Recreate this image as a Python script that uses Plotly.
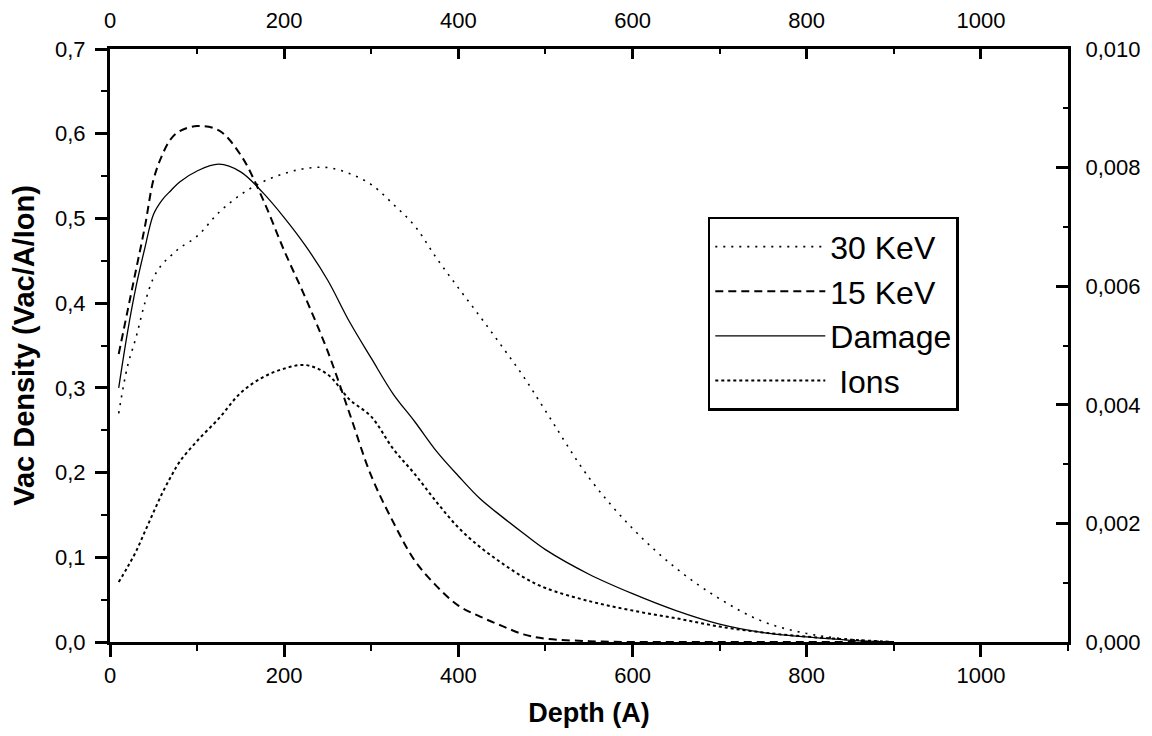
import plotly.graph_objects as go

depth = [10, 20, 30, 40, 50, 60, 70, 80, 100, 125, 150, 175, 200, 225, 250, 275, 300,
         325, 350, 375, 400, 425, 450, 475, 500, 550, 600, 650, 700, 750, 800, 850, 900]

kev30 = [0.27, 0.325, 0.36, 0.40, 0.43, 0.446, 0.456, 0.465, 0.479, 0.507, 0.528, 0.543,
         0.553, 0.559, 0.560, 0.553, 0.540, 0.517, 0.491, 0.453, 0.418, 0.384, 0.349,
         0.313, 0.273, 0.194, 0.134, 0.087, 0.051, 0.024, 0.010, 0.003, 0.0]

kev15 = [0.34, 0.39, 0.44, 0.49, 0.546, 0.575, 0.594, 0.603, 0.609, 0.604, 0.575, 0.524,
         0.462, 0.405, 0.343, 0.27, 0.196, 0.142, 0.096, 0.066, 0.043, 0.030, 0.019,
         0.009, 0.004, 0.001, 0.0, 0.0, 0.0, 0.0, 0.0, 0.0, 0.0]

damage = [0.30, 0.365, 0.42, 0.465, 0.505, 0.522, 0.533, 0.543, 0.556, 0.564, 0.555,
          0.531, 0.501, 0.467, 0.427, 0.378, 0.335, 0.293, 0.260, 0.225, 0.196, 0.169,
          0.148, 0.128, 0.109, 0.080, 0.057, 0.037, 0.021, 0.011, 0.006, 0.002, 0.0]

# Ions, right axis units
ions = [0.00101, 0.00126, 0.00153, 0.00186, 0.00219, 0.00251, 0.00279, 0.00304, 0.00339,
        0.00377, 0.00420, 0.00446, 0.00461, 0.00467, 0.00451, 0.00409, 0.00380, 0.00326,
        0.00283, 0.00236, 0.00193, 0.00160, 0.00133, 0.00109, 0.00091, 0.00069, 0.00053,
        0.00040, 0.00026, 0.00016, 0.00009, 0.00004, 0.0]

x_ticks = [0, 200, 400, 600, 800, 1000]
y_left_ticks = [0.0, 0.1, 0.2, 0.3, 0.4, 0.5, 0.6, 0.7]
y_right_ticks = [0.000, 0.002, 0.004, 0.006, 0.008, 0.010]

FONT = "Arial, Liberation Sans, sans-serif"

fig = go.Figure()
fig.add_trace(go.Scatter(x=depth, y=kev30, name="30 KeV", mode="lines",
                         line=dict(color="black", width=1.6, dash="2px,6px", shape="spline")))
fig.add_trace(go.Scatter(x=depth, y=kev15, name="15 KeV", mode="lines",
                         line=dict(color="black", width=2, dash="8px,5px", shape="spline")))
fig.add_trace(go.Scatter(x=depth, y=damage, name="Damage", mode="lines",
                         line=dict(color="black", width=1.3, shape="spline")))
fig.add_trace(go.Scatter(x=depth, y=ions, name=" Ions", mode="lines", xaxis="x2", yaxis="y2",
                         line=dict(color="black", width=2, dash="3px,3px", shape="spline")))

axis_common = dict(showgrid=False, zeroline=False, showline=True, linecolor="black",
                   linewidth=3, tickcolor="black", tickwidth=2.5, automargin=False,
                   tickfont=dict(family=FONT, size=22, color="black"))

def minor(ticks, dtick, ln):
    return dict(dtick=dtick, tick0=0, ticks=ticks, ticklen=ln, tickcolor="black", tickwidth=2)

fig.update_layout(
    width=1152, height=736,
    margin=dict(l=110, r=84, t=49, b=94),
    paper_bgcolor="white", plot_bgcolor="white",
    separators=",.",
    font=dict(family=FONT, color="black"),
    xaxis=dict(range=[0, 1100], tickvals=x_ticks, ticks="outside", ticklen=12,
               minor=minor("outside", 100, 6),
               title=dict(text="<b>Depth (A)</b>", font=dict(family=FONT, size=27), standoff=16),
               **axis_common),
    yaxis=dict(range=[0, 0.7], tickvals=y_left_ticks, tickformat=".1f", ticks="outside", ticklen=12,
               ticklabelstandoff=5, minor=minor("outside", 0.05, 6),
               title=dict(text="<b>Vac Density (Vac/A/Ion)</b>", font=dict(family=FONT, size=29), standoff=12),
               **axis_common),
    xaxis2=dict(range=[0, 1100], tickvals=x_ticks, overlaying="x", side="top", anchor="y2",
                ticks="inside", ticklen=10, ticklabelstandoff=9,
                minor=minor("inside", 100, 5),
                **axis_common),
    yaxis2=dict(range=[0, 0.010], tickvals=y_right_ticks, tickformat=".3f", overlaying="y",
                side="right", anchor="x2", ticks="inside", ticklen=12, ticklabelstandoff=10,
                minor=minor("inside", 0.001, 5),
                **axis_common),
    legend=dict(x=0.624, y=0.717, xanchor="left", yanchor="top",
                bgcolor="white", bordercolor="black", borderwidth=2.5,
                font=dict(family=FONT, size=32, color="black"),
                itemwidth=110, traceorder="normal"),
    showlegend=True,
)

fig.write_html("out.html")
